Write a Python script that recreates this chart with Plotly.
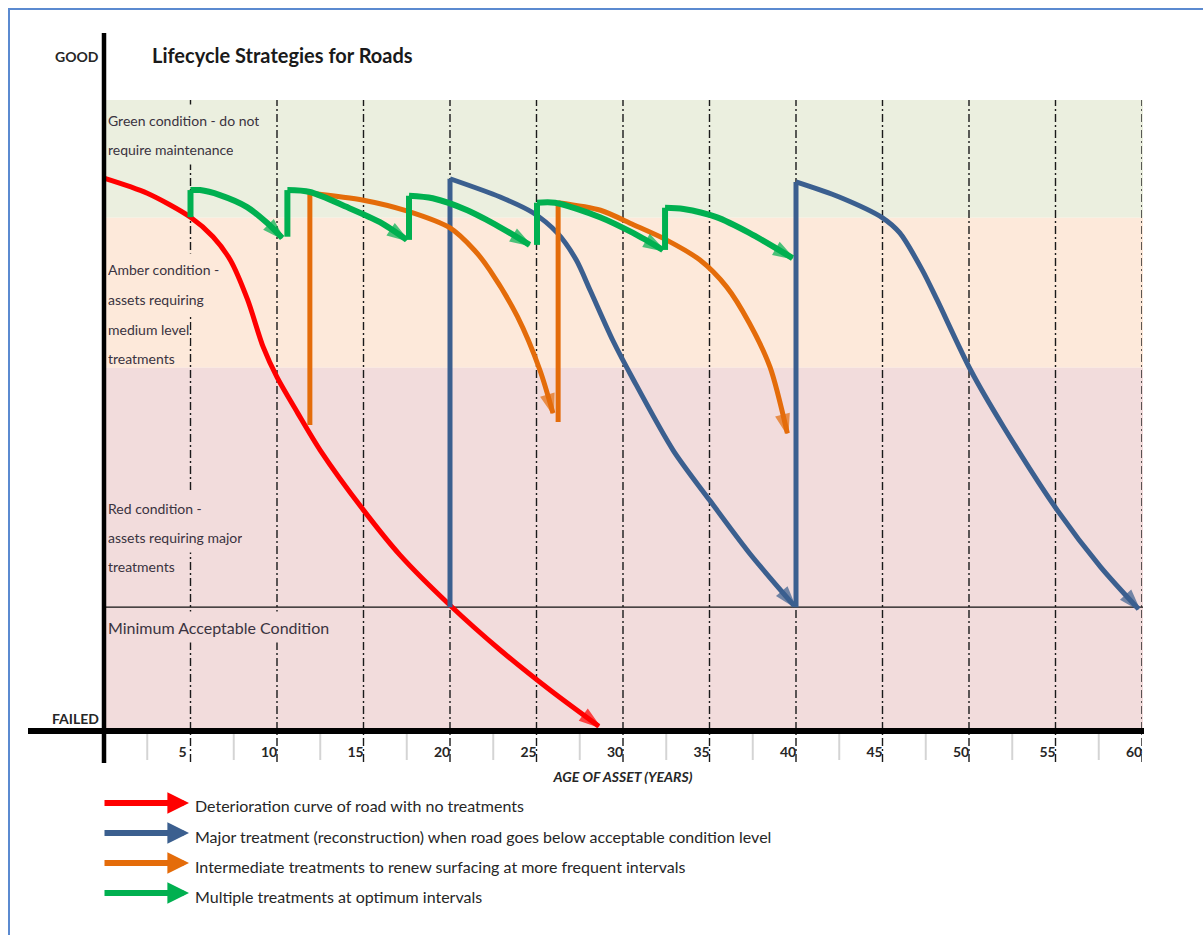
import plotly.graph_objects as go

# ---------------- data (years, condition score 0=failed .. 100=top of scale) -------------
RED_YEARS = [0, 2.5, 5.0, 6.3, 7.3, 8.3, 9.2, 10.0, 11.2, 12.5, 15.0, 17.1, 20.0, 22.9, 25.8, 28.6]
RED_COND = [87.6, 85.2, 81.4, 78.3, 74.6, 68.3, 60.8, 56.0, 50.3, 44.4, 34.9, 27.8, 19.8, 12.7, 6.3, 0.6]

BLUE_CYCLE1_YEARS = [20.0, 20.0, 22.9, 24.8, 26.2, 27.3, 28.1, 29.4, 30.6, 32.9, 35.0, 37.3, 39.9]
BLUE_CYCLE1_COND = [19.5, 87.5, 84.6, 82.1, 78.9, 74.6, 69.8, 61.9, 55.6, 44.4, 36.5, 28.1, 19.7]
BLUE_CYCLE2_YEARS = [40.0, 40.0, 42.5, 45.0, 46.0, 47.3, 48.15, 50.1, 52.0, 55.1, 57.6, 59.8]
BLUE_CYCLE2_COND = [19.5, 87.0, 84.6, 81.3, 78.9, 73.0, 68.3, 57.1, 48.1, 34.9, 25.9, 19.2]

ORANGE_CYCLE1_YEARS = [11.9, 11.9, 15.0, 17.5, 20.0, 21.4, 22.3, 23.9, 25.2, 25.95]
ORANGE_CYCLE1_COND = [48.4, 85.2, 84.1, 82.4, 79.7, 76.2, 73.0, 65.6, 57.1, 50.3]
ORANGE_CYCLE2_YEARS = [26.25, 26.25, 28.7, 30.6, 32.5, 34.45, 36.0, 37.3, 38.5, 39.5]
ORANGE_CYCLE2_COND = [48.9, 83.7, 82.5, 80.2, 77.8, 74.6, 70.3, 64.6, 57.6, 47.1]

GREEN_CYCLE1_YEARS = [5.0, 5.0, 5.55, 6.7, 8.27, 9.42, 10.3]
GREEN_CYCLE1_COND = [81.4, 85.7, 85.7, 84.9, 83.0, 80.5, 78.1]
GREEN_CYCLE2_YEARS = [10.6, 10.6, 11.9, 14.05, 15.95, 17.5]
GREEN_CYCLE2_COND = [78.3, 85.7, 85.4, 83.0, 80.6, 77.8]
GREEN_CYCLE3_YEARS = [17.63, 17.63, 19.0, 21.0, 22.9, 24.6]
GREEN_CYCLE3_COND = [77.8, 84.8, 84.4, 82.5, 79.8, 77.0]
GREEN_CYCLE4_YEARS = [25.03, 25.03, 26.07, 28.67, 30.58, 32.3]
GREEN_CYCLE4_COND = [77.0, 83.7, 83.7, 81.4, 78.9, 76.2]
GREEN_CYCLE5_YEARS = [32.43, 32.43, 33.5, 35.4, 37.3, 39.8]
GREEN_CYCLE5_COND = [76.2, 82.9, 82.7, 81.4, 78.9, 74.9]

# condition bands (upper limits) and threshold
GREEN_TOP, AMBER_TOP, RED_TOP = 100.0, 81.3, 57.5
MIN_ACCEPTABLE = 19.5

TICK_YEARS = [5, 10, 15, 20, 25, 30, 35, 40, 45, 50, 55, 60]
TICK_LABELS = [str(v) for v in TICK_YEARS]
MINOR_YEARS = [2.5, 7.5, 12.5, 17.5, 22.5, 27.5, 32.5, 37.5, 42.5, 47.5, 52.5, 57.5]

GREEN_TEXT = ["Green condition - do not", "require maintenance"]
GREEN_TEXT_Y = [96.8, 92.2]
AMBER_TEXT = ["Amber condition -", "assets requiring", "medium level", "treatments"]
AMBER_TEXT_Y = [73.2, 68.4, 63.7, 59.0]
RED_TEXT = ["Red condition -", "assets requiring major", "treatments"]
RED_TEXT_Y = [35.2, 30.6, 26.0]
MIN_TEXT, MIN_TEXT_Y = "Minimum Acceptable Condition", 16.3

LEGEND_LABELS = [
    "Deterioration curve of road with no treatments",
    "Major treatment (reconstruction) when road goes below acceptable condition level",
    "Intermediate treatments to renew surfacing at more frequent intervals",
    "Multiple treatments at optimum intervals",
]

# ---------------- styling ----------------
RED, BLUE, ORANGE, GREEN = "#FF0000", "#3B5F8F", "#E46C0A", "#00B050"
BAND_GREEN, BAND_AMBER, BAND_RED = "#EBEFDF", "#FDE9DA", "#F2DCDC"
FONT = "Lato, 'Liberation Sans', sans-serif"
TXT = "#262626"

W, H = 1203, 935
PL, PR, PT, PB = 104, 1142, 37, 730


def px_x(px):
    return (px - PL) / (PR - PL)


def px_y(py):
    return (PB - py) / (PB - PT)


fig = go.Figure()


def add_arrow_curve(xs, ys, color, width, size):
    n = len(xs)
    fig.add_trace(go.Scatter(
        x=xs, y=ys, mode="lines+markers",
        line=dict(color=color, width=width, shape="spline", smoothing=0.8),
        marker=dict(symbol="arrow", angleref="previous", color=color,
                    size=[0] * (n - 1) + [size],
                    line=dict(color=color, width=[0] * (n - 1) + [2.5])),
        showlegend=False, hoverinfo="skip"))


def add_cycle(xs, ys, color, width, size):
    # vertical jump (treatment) then deterioration curve
    fig.add_trace(go.Scatter(x=xs[:2], y=ys[:2], mode="lines",
                             line=dict(color=color, width=width),
                             showlegend=False, hoverinfo="skip"))
    add_arrow_curve(xs[1:], ys[1:], color, width, size)


add_arrow_curve(RED_YEARS, RED_COND, RED, 5, 19)
add_cycle(BLUE_CYCLE1_YEARS, BLUE_CYCLE1_COND, BLUE, 5, 19)
add_cycle(BLUE_CYCLE2_YEARS, BLUE_CYCLE2_COND, BLUE, 5, 19)
add_cycle(ORANGE_CYCLE1_YEARS, ORANGE_CYCLE1_COND, ORANGE, 5, 19)
add_cycle(ORANGE_CYCLE2_YEARS, ORANGE_CYCLE2_COND, ORANGE, 5, 19)
for gx, gy in [(GREEN_CYCLE1_YEARS, GREEN_CYCLE1_COND), (GREEN_CYCLE2_YEARS, GREEN_CYCLE2_COND),
               (GREEN_CYCLE3_YEARS, GREEN_CYCLE3_COND), (GREEN_CYCLE4_YEARS, GREEN_CYCLE4_COND),
               (GREEN_CYCLE5_YEARS, GREEN_CYCLE5_COND)]:
    add_cycle(gx, gy, GREEN, 6, 19)

shapes = []
# bands (paper x so they share the layer with the dashed lines and sit under them)
for y0, y1, c in [(AMBER_TOP, GREEN_TOP, BAND_GREEN), (RED_TOP, AMBER_TOP, BAND_AMBER), (0, RED_TOP, BAND_RED)]:
    shapes.append(dict(type="rect", xref="paper", yref="y", x0=0, x1=px_x(1143), y0=y0, y1=y1,
                       fillcolor=c, line=dict(width=0), layer="below"))
# dashed year lines
for v in TICK_YEARS:
    shapes.append(dict(type="line", xref="x", yref="paper", x0=v, x1=v, y0=px_y(762), y1=px_y(100),
                       line=dict(color="#1a1a1a", width=1.4, dash="8px,3px,2px,3px"), layer="below"))
# minor grey ticks under axis
for v in MINOR_YEARS:
    shapes.append(dict(type="line", xref="x", yref="paper", x0=v, x1=v, y0=px_y(760), y1=px_y(734),
                       line=dict(color="#D4D4D4", width=2), layer="below"))
# minimum acceptable line
shapes.append(dict(type="line", xref="paper", yref="y", x0=0, x1=px_x(1143), y0=MIN_ACCEPTABLE, y1=MIN_ACCEPTABLE,
                   line=dict(color="#111111", width=1.3), layer="below"))
# thick axes
shapes.append(dict(type="line", xref="paper", yref="paper", x0=px_x(28), x1=px_x(1144), y0=px_y(731), y1=px_y(731),
                   line=dict(color="black", width=6), layer="above"))
shapes.append(dict(type="line", xref="paper", yref="paper", x0=0, x1=0, y0=px_y(763), y1=px_y(33),
                   line=dict(color="black", width=4.5), layer="above"))
# outer blue frame
shapes.append(dict(type="rect", xref="paper", yref="paper", x0=px_x(9), x1=px_x(1215), y0=px_y(950), y1=px_y(9),
                   line=dict(color="#5B8AD0", width=2), fillcolor="rgba(0,0,0,0)", layer="above"))

annotations = []


def band_text(lines, ys, bg, size=14, heights=None):
    heights = heights or [30] * len(lines)
    for t, y, h in zip(lines, ys, heights):
        annotations.append(dict(text=t, xref="paper", yref="y", x=px_x(107), y=y, xanchor="left",
                                yanchor="middle", showarrow=False, bgcolor=bg, borderpad=0, height=h,
                                font=dict(family=FONT, size=size, color="#3A3340")))


band_text(GREEN_TEXT, GREEN_TEXT_Y, BAND_GREEN)
band_text(AMBER_TEXT, AMBER_TEXT_Y, BAND_AMBER, heights=[30, 30, 30, 18])
band_text(RED_TEXT, RED_TEXT_Y, BAND_RED)
band_text([MIN_TEXT], [MIN_TEXT_Y], BAND_RED, size=16)

annotations.append(dict(text="<b>GOOD</b>", xref="paper", yref="paper", x=0, y=px_y(57), xanchor="right",
                        yanchor="middle", xshift=-3, showarrow=False,
                        font=dict(family=FONT, size=14, color=TXT)))
annotations.append(dict(text="<b>FAILED</b>", xref="paper", yref="paper", x=0, y=px_y(718), xanchor="right",
                        yanchor="middle", xshift=-3, showarrow=False,
                        font=dict(family=FONT, size=14, color=TXT)))

# custom legend
LEGEND_COLORS = [RED, BLUE, ORANGE, GREEN]
LEGEND_Y = [803, 833, 863, 893]
for lab, col, ly in zip(LEGEND_LABELS, LEGEND_COLORS, LEGEND_Y):
    annotations.append(dict(text="", xref="paper", yref="paper", x=px_x(189), y=px_y(ly), ax=-86, ay=0,
                            showarrow=True, arrowhead=2, arrowsize=0.72, arrowwidth=6, arrowcolor=col,
                            standoff=0))
    annotations.append(dict(text=lab, xref="paper", yref="paper", x=px_x(193), y=px_y(ly + 3),
                            xanchor="left", yanchor="middle", showarrow=False,
                            font=dict(family=FONT, size=16, color=TXT)))

fig.update_layout(
    width=W, height=H,
    margin=dict(l=PL, r=W - PR, t=PT, b=H - PB),
    paper_bgcolor="white", plot_bgcolor="rgba(0,0,0,0)",
    title=dict(text="<b>Lifecycle Strategies for Roads</b>", xref="container", yref="container",
               x=152 / W, y=1 - 56 / H, xanchor="left", yanchor="middle",
               font=dict(family=FONT, size=20, color="#1a1a1a")),
    xaxis=dict(range=[0, 60], tickvals=TICK_YEARS, ticktext=TICK_LABELS, ticks="",
               showgrid=False, zeroline=False, showline=False,
               tickfont=dict(family=FONT, size=14, color=TXT, weight="bold"),
               ticklabelshift=-8, ticklabelstandoff=12,
               title=dict(text="<b><i>AGE OF ASSET (YEARS)</i></b>", standoff=13,
                          font=dict(family=FONT, size=14, color=TXT))),
    yaxis=dict(range=[0, 110], visible=False, showgrid=False, zeroline=False),
    shapes=shapes, annotations=annotations,
    showlegend=False,
)

fig.write_html("out.html", config={"displayModeBar": False},
               post_script="document.body.style.margin='0';")
